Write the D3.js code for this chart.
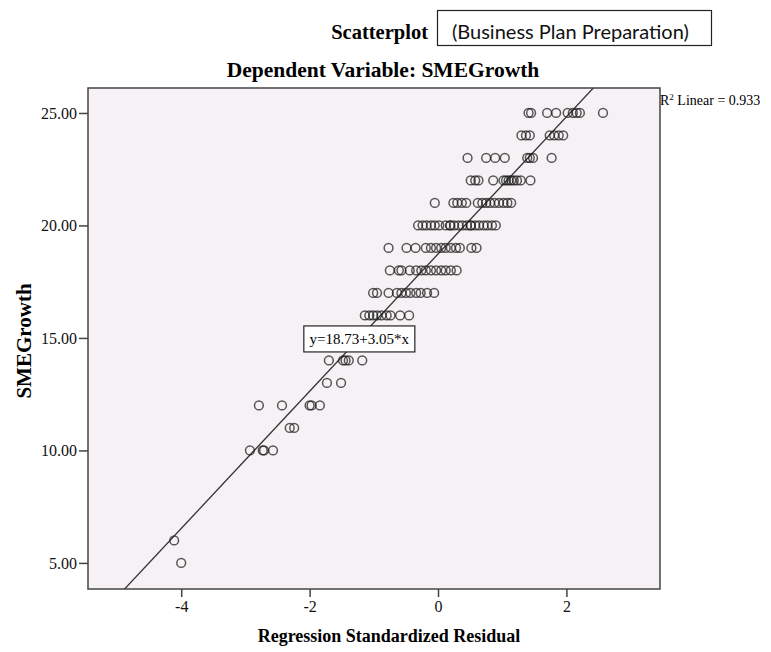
<!DOCTYPE html>
<html>
<head>
<meta charset="utf-8">
<script src="https://cdn.jsdelivr.net/npm/d3@7"></script>
<style>
    body { margin: 0; background: #fff; }
    #chart-area { width: 771px; height: 652px; }
    .serif { font-family: "Liberation Serif", "Times New Roman", serif; fill: #000; }
    .axis text { font-family: "Liberation Serif", "Times New Roman", serif; font-size: 16px; fill: #111; }
    .axis line { stroke: #444; stroke-width: 1.5; }
</style>
</head>
<body>
<div id="chart-area"></div>
<script>
// SMEGrowth level for each row of points
const growthLevels = [25, 24, 23, 22, 21, 20, 19, 18, 17, 16, 14, 13, 12, 11, 10, 6, 5];

// regression standardized residuals, one list per growth level
const residualRows = [
    [1.41, 1.45, 1.70, 1.84, 2.02, 2.10, 2.16, 2.21, 2.57],
    [1.30, 1.37, 1.43, 1.74, 1.81, 1.88, 1.95],
    [0.46, 0.75, 0.89, 1.04, 1.39, 1.43, 1.48, 1.77],
    [0.51, 0.58, 0.63, 0.86, 1.02, 1.06, 1.10, 1.14, 1.18, 1.23, 1.29, 1.44],
    [-0.05, 0.24, 0.30, 0.37, 0.44, 0.62, 0.69, 0.75, 0.81, 0.88, 0.95, 1.02, 1.08, 1.14],
    [-0.31, -0.24, -0.18, -0.11, -0.05, 0.02, 0.12, 0.19, 0.19, 0.25, 0.32, 0.38, 0.45, 0.51, 0.51, 0.58, 0.64, 0.71, 0.77, 0.84, 0.90],
    [-0.77, -0.49, -0.35, -0.19, -0.11, -0.03, 0.05, 0.12, 0.20, 0.28, 0.34, 0.52, 0.60],
    [-0.75, -0.61, -0.57, -0.44, -0.34, -0.26, -0.19, -0.11, -0.03, 0.05, 0.12, 0.20, 0.29],
    [-1.01, -0.95, -0.77, -0.64, -0.57, -0.50, -0.43, -0.34, -0.27, -0.17, -0.06],
    [-1.14, -1.07, -1.01, -0.95, -0.88, -0.80, -0.74, -0.59, -0.45],
    [-1.70, -1.48, -1.44, -1.39, -1.18],
    [-1.73, -1.51],
    [-2.79, -2.43, -2.00, -1.97, -1.84],
    [-2.31, -2.24],
    [-2.93, -2.73, -2.71, -2.57],
    [-4.11],
    [-4.00]
];

const xTicks = [-4, -2, 0, 2];
const yTicks = [5, 10, 15, 20, 25];
const fitIntercept = 18.73;
const fitSlope = 3.05;
const rSquared = 0.933;

class ScatterVis {
    constructor(parentElement) {
        this.parentElement = parentElement;
        this.data = [];
        growthLevels.forEach((g, i) => {
            residualRows[i].forEach(r => this.data.push({ resid: r, growth: g }));
        });
        this.initVis();
    }

    initVis() {
        const vis = this;

        vis.margin = { top: 88, right: 111, bottom: 63, left: 88 };
        vis.width = 771 - vis.margin.left - vis.margin.right;
        vis.height = 652 - vis.margin.top - vis.margin.bottom;

        vis.root = d3.select("#" + vis.parentElement)
            .append("svg")
            .attr("width", 771)
            .attr("height", 652);

        vis.svg = vis.root.append("g")
            .attr("transform", `translate(${vis.margin.left}, ${vis.margin.top})`);

        vis.svg.append("defs")
            .append("clipPath")
            .attr("id", "clip")
            .append("rect")
            .attr("width", vis.width)
            .attr("height", vis.height);

        vis.x = d3.scaleLinear().domain([-5.452, 3.458]).range([0, vis.width]);
        vis.y = d3.scaleLinear().domain([3.84, 26.11]).range([vis.height, 0]);

        // plot background
        vis.svg.append("rect")
            .attr("width", vis.width)
            .attr("height", vis.height)
            .attr("fill", "#f6f1f4");

        // titles
        vis.root.append("text")
            .attr("class", "serif")
            .attr("x", 428)
            .attr("y", 39)
            .attr("text-anchor", "end")
            .style("font-size", "20.5px")
            .style("font-weight", "bold")
            .text("Scatterplot");

        vis.root.append("rect")
            .attr("x", 437.5)
            .attr("y", 10.5)
            .attr("width", 274)
            .attr("height", 35)
            .attr("fill", "#fff")
            .attr("stroke", "#222")
            .attr("stroke-width", 1.2);

        vis.root.append("text")
            .attr("x", 452)
            .attr("y", 39)
            .style("font-family", "Lato, 'Open Sans', sans-serif")
            .style("font-size", "20px")
            .style("fill", "#111")
            .text("(Business Plan Preparation)");

        vis.root.append("text")
            .attr("class", "serif")
            .attr("x", 383)
            .attr("y", 77)
            .attr("text-anchor", "middle")
            .style("font-size", "21.5px")
            .style("font-weight", "bold")
            .text("Dependent Variable: SMEGrowth");

        // axes
        vis.svg.append("g")
            .attr("class", "axis")
            .attr("transform", `translate(0, ${vis.height})`)
            .call(d3.axisBottom(vis.x).tickValues(xTicks).tickSize(8).tickPadding(4).tickFormat(d => String(d)))
            .call(g => g.select(".domain").remove());

        vis.svg.append("g")
            .attr("class", "axis")
            .call(d3.axisLeft(vis.y).tickValues(yTicks).tickSize(9).tickPadding(2).tickFormat(d3.format(".2f")))
            .call(g => g.select(".domain").remove());

        vis.root.append("text")
            .attr("class", "serif")
            .attr("x", 389)
            .attr("y", 642)
            .attr("text-anchor", "middle")
            .style("font-size", "18px")
            .style("font-weight", "bold")
            .text("Regression Standardized Residual");

        vis.root.append("text")
            .attr("class", "serif")
            .attr("transform", "translate(31, 341) rotate(-90)")
            .attr("text-anchor", "middle")
            .style("font-size", "21px")
            .style("font-weight", "bold")
            .text("SMEGrowth");

        vis.updateVis();
    }

    updateVis() {
        const vis = this;

        // fit line across the whole x range, clipped to the frame
        const fitLine = d3.line()
            .x(d => vis.x(d))
            .y(d => vis.y(fitIntercept + fitSlope * d));

        vis.svg.append("path")
            .datum(vis.x.domain())
            .attr("d", fitLine)
            .attr("fill", "none")
            .attr("stroke", "#333")
            .attr("stroke-width", 1.3)
            .attr("clip-path", "url(#clip)");

        vis.svg.append("g")
            .attr("clip-path", "url(#clip)")
            .selectAll("circle")
            .data(vis.data)
            .join("circle")
            .attr("cx", d => vis.x(d.resid))
            .attr("cy", d => vis.y(d.growth))
            .attr("r", 4.4)
            .attr("fill", "none")
            .attr("stroke", "#222")
            .attr("stroke-opacity", 0.75)
            .attr("stroke-width", 1.5);

        // frame
        vis.svg.append("rect")
            .attr("width", vis.width)
            .attr("height", vis.height)
            .attr("fill", "none")
            .attr("stroke", "#444")
            .attr("stroke-width", 1.5);

        // equation label box
        const eqGroup = vis.svg.append("g")
            .attr("transform", `translate(${vis.x(-2.09)}, ${vis.y(15)})`);
        eqGroup.append("rect")
            .attr("x", 0)
            .attr("y", -12)
            .attr("width", 111)
            .attr("height", 26)
            .attr("fill", "#fff")
            .attr("stroke", "#222")
            .attr("stroke-width", 1.2);
        eqGroup.append("text")
            .attr("class", "serif")
            .attr("x", 55.5)
            .attr("y", 6)
            .attr("text-anchor", "middle")
            .style("font-size", "15px")
            .text(`y=${fitIntercept}+${fitSlope}*x`);

        // R squared label at the line's top end
        const r2 = vis.root.append("text")
            .attr("class", "serif")
            .attr("x", vis.margin.left + vis.width)
            .attr("y", vis.margin.top + vis.y(25) - 8)
            .style("font-size", "14px");
        r2.append("tspan").text("R");
        r2.append("tspan").attr("dy", -5).style("font-size", "9px").text("2");
        r2.append("tspan").attr("dy", 5).text(` Linear = ${rSquared}`);
    }
}

new ScatterVis("chart-area");
</script>
</body>
</html>
